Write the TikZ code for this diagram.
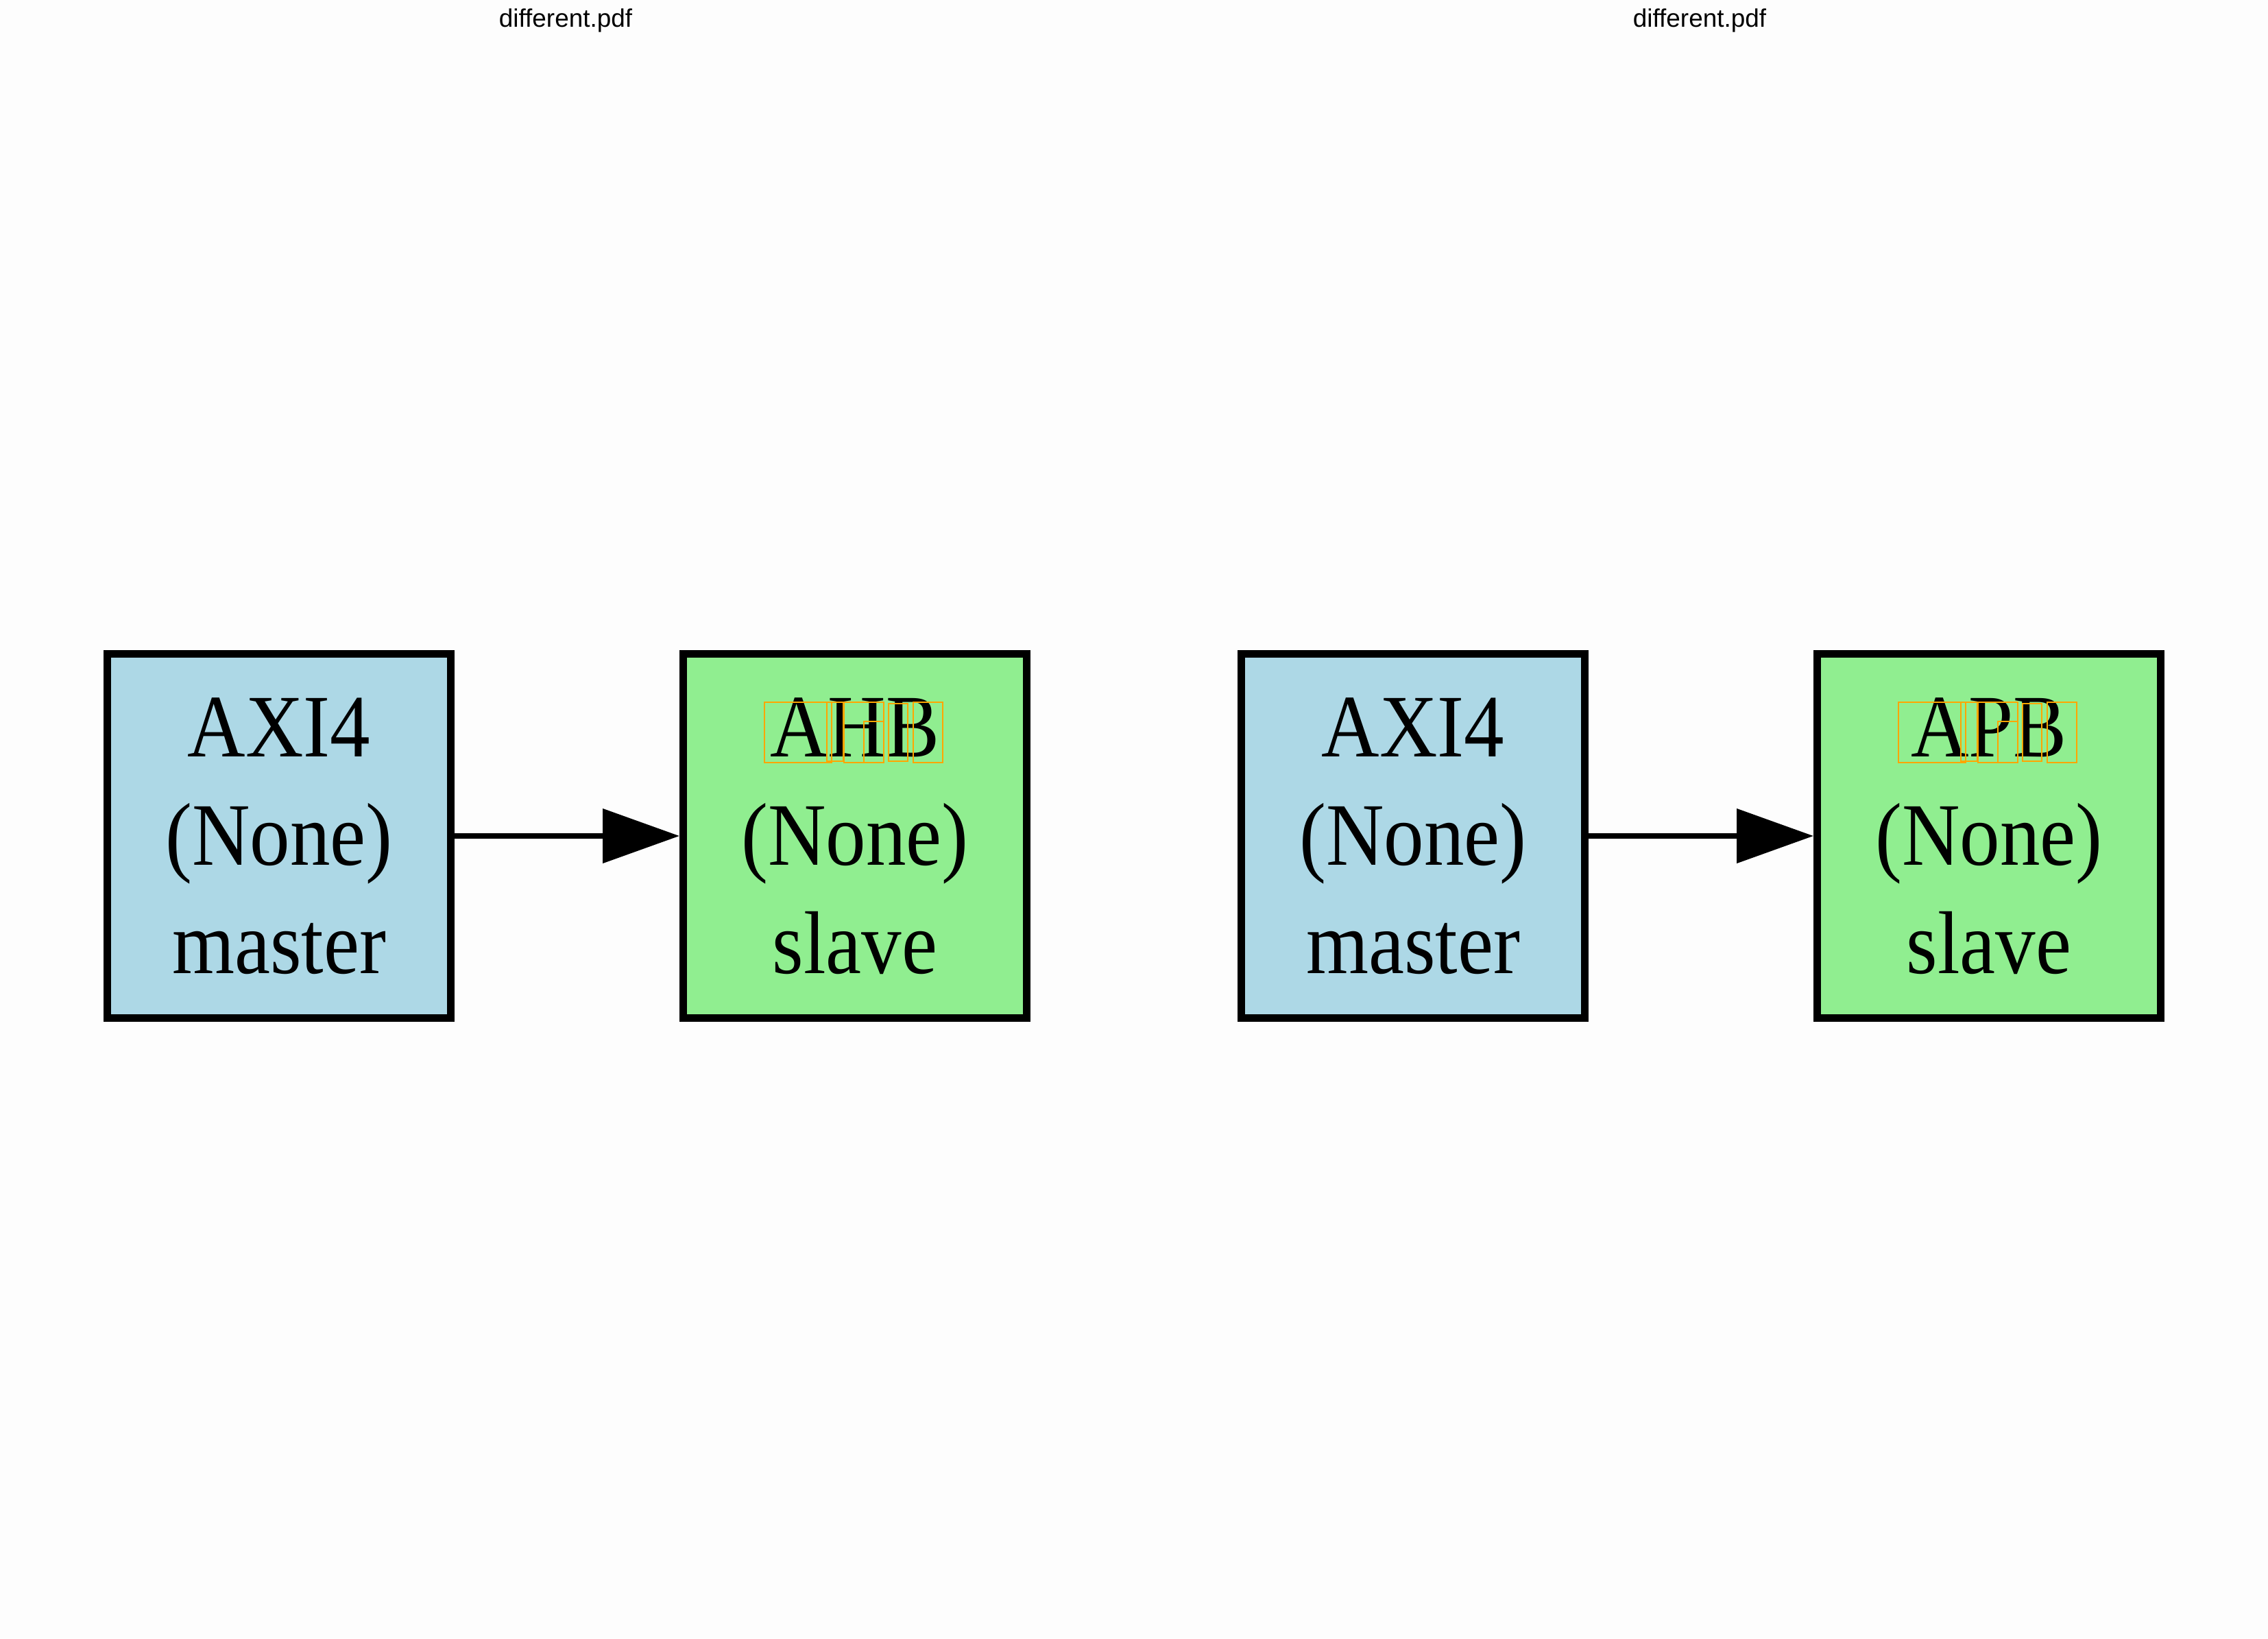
\documentclass[tikz,border=0pt]{standalone}
\usepackage{fontspec}
\setmainfont{Liberation Serif}
\newfontfamily\titlefont{Liberation Sans}
\newfontfamily\boxfont[FakeStretch=0.9]{Liberation Serif}
\usepackage{xcolor}
\usepackage{tikz}
\usetikzlibrary{arrows.meta,positioning,calc}
\definecolor{BusBlue}  {RGB}{173, 216, 230}
\definecolor{BusGreen} {RGB}{144, 238, 144}
\definecolor{PageGrey} {RGB}{253, 253, 253}
\definecolor{DiffOrange}{RGB}{255, 165,   0}
\tikzset{
  busbox/.style={draw=black, line width=0.11cm, minimum width=5.01cm,
    minimum height=5.31cm, inner sep=0pt, align=center,
    font=\boxfont\fontsize{37}{45}\selectfont},
  masterbox/.style={busbox, fill=BusBlue},
  slavebox/.style={busbox, fill=BusGreen},
  busarrow/.style={line width=0.08cm, -{Triangle[length=1.12cm,width=0.78cm]}},
  diffbox/.style={draw=DiffOrange, line width=0.015cm},
  pagetitle/.style={font=\titlefont\fontsize{10.5}{12}\selectfont}
}

\begin{document}
\begin{tikzpicture}
      \fill[PageGrey] (0,0) rectangle (33.08,23.89);
      \useasboundingbox (0,0) rectangle (33.08,23.89);
      % page titles
      \node[pagetitle] (titleA) at (8.25,23.59) {different.pdf};
      \node[pagetitle] (titleB) at (24.79,23.59) {different.pdf};
      % left pair
      \node[masterbox] (axiA) at (4.07,11.70) {AXI4\\(None)\\master};
      \node[slavebox, right=3.28cm of axiA] (ahb) {AHB\\(None)\\slave};
      \draw[busarrow] (axiA) -- (ahb);
      % right pair
      \node[masterbox] (axiB) at (20.61,11.70) {AXI4\\(None)\\master};
      \node[slavebox, right=3.28cm of axiB] (apb) {APB\\(None)\\slave};
      \draw[busarrow] (axiB) -- (apb);
      % changed glyphs
      \foreach \n in {ahb,apb}{
        \foreach \xa/\ya/\xb/\yb in {-1.32/1.95/-0.34/1.07, -0.41/1.95/-0.17/1.09,
            -0.16/1.95/0.42/1.07, 0.13/1.67/0.42/1.07,
            0.49/1.93/0.77/1.09, 0.85/1.95/1.28/1.07}
          \draw[diffbox] ($(\n)+(\xa,\ya)$) rectangle ($(\n)+(\xb,\yb)$);
      }
    \end{tikzpicture}
\end{document}
